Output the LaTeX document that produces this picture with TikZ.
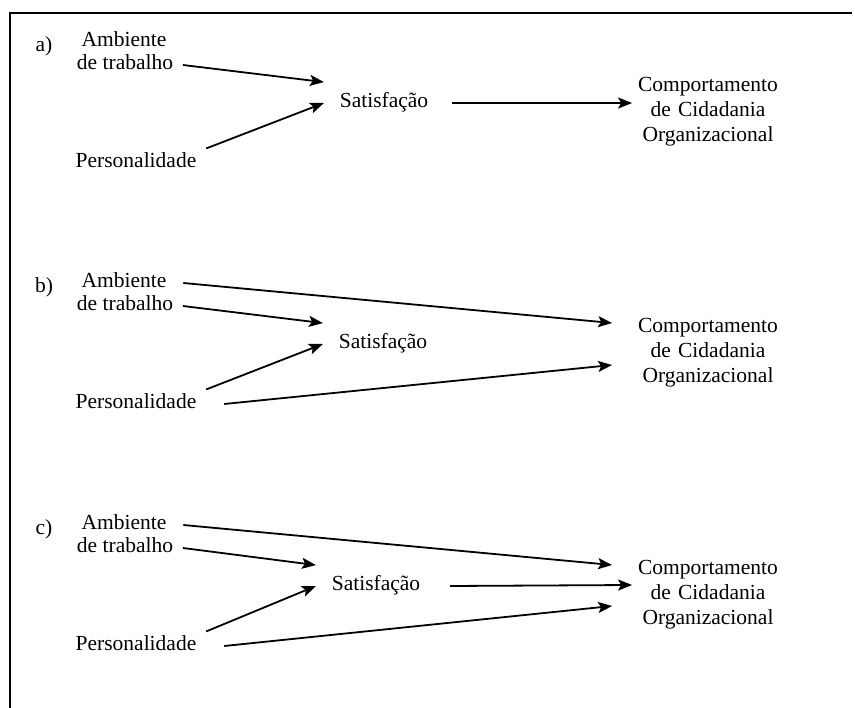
\documentclass[tikz,border=0pt]{standalone}
\usepackage{fontspec}
\setmainfont{Liberation Serif}
\usetikzlibrary{arrows.meta}

\begin{document}
\begin{tikzpicture}[x=1pt,y=-1pt,line width=1.8pt,>={Stealth[length=14pt,width=11pt,inset=3pt]},
  txt/.style={inner xsep=9pt,inner ysep=2pt,text height=1.1em,text depth=0.13em,font=\fontsize{21.5}{25}\selectfont},
  satbox/.style={txt,inner xsep=15pt,minimum height=40pt},
  compbox/.style={font=\fontsize{21.5}{25}\selectfont,align=center,text width=150pt,inner sep=0pt}]
\useasboundingbox (0,0) rectangle (855,708);
\draw[line width=1.2pt] (852,13) -- (10,13) -- (10,708);
% the three panels share the same nodes
\foreach \p/\dy/\sx in {a/0/384,b/241/383,c/483/376}{
  \node[txt] (lab\p) at (44,47+\dy) {\p)};
  \node[txt] (amb\p) at (124,42+\dy) {Ambiente};
  \node[txt] (trab\p) at (125,65+\dy) {de trabalho};
  \node[txt] (pers\p) at (136,163+\dy) {Personalidade};
  \node[satbox] (sat\p) at (\sx,103+\dy) {Satisfação};
  \node[compbox] (comp\p) at (708,112+\dy) {Comportamento\\de Cidadania\\Organizacional};
}
% a)
\draw[->] (traba.east) -- (sata.north west);
\draw[->] ([yshift=5.5pt]persa.north east) -- (sata.west);
\draw[->] ([xshift=8pt]sata.east) -- ([yshift=9pt]compa.west);
% b)
\draw[->] ([xshift=7pt]ambb.east) -- ([xshift=-20pt,yshift=30pt]compb.west);
\draw[->] (trabb.east) -- (satb.north west);
\draw[->] ([yshift=5.5pt]persb.north east) -- (satb.west);
\draw[->] ([xshift=18pt]persb.east) -- ([xshift=-20pt,yshift=-12pt]compb.west);
% c)
\draw[->] ([xshift=7pt]ambc.east) -- ([xshift=-20pt,yshift=30pt]compc.west);
\draw[->] (trabc.east) -- (satc.north west);
\draw[->] ([yshift=5.5pt]persc.north east) -- (satc.west);
\draw[->] ([xshift=14pt]satc.east) -- ([yshift=10pt]compc.west);
\draw[->] ([xshift=18pt]persc.east) -- ([xshift=-20pt,yshift=-11pt]compc.west);
\end{tikzpicture}
\end{document}
